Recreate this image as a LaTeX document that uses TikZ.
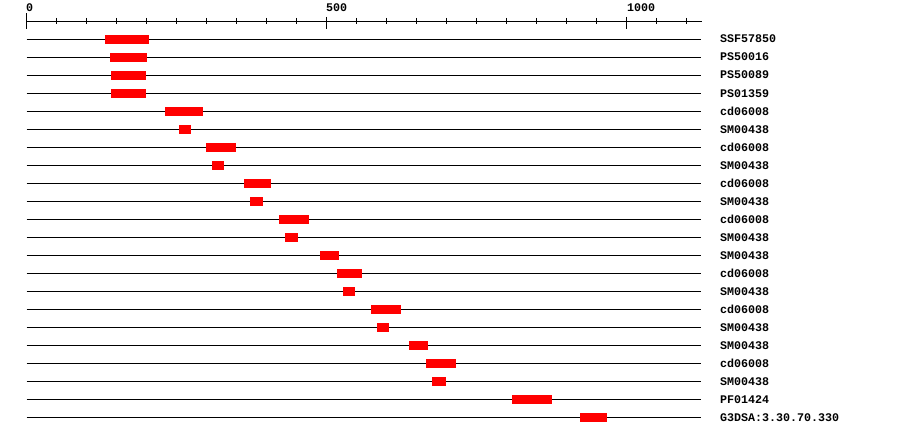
\documentclass[tikz,border=0pt]{standalone}
\usepackage{fontspec}
\setmonofont{Liberation Mono}
\begin{document}
\begin{tikzpicture}[x=1pt,y=-1pt,
  axisline/.style={black,line width=1.35pt},
  rowline/.style={black,line width=1.35pt},
  hit/.style={fill=red,draw=none},
  lbl/.style={inner sep=0pt,anchor=west,text height=7pt,text depth=0pt,font=\ttfamily\bfseries\fontsize{11.67}{14}\selectfont},
  axlbl/.style={inner sep=0pt,anchor=base west,font=\ttfamily\bfseries\fontsize{11.67}{14}\selectfont}]
\useasboundingbox[fill=white] (0,0) rectangle (900,436);
% axis
\coordinate (axL) at (26.5,21.5);
\coordinate (axR) at (701.5,21.5);
\draw[axisline] (axL) -- (axR);
\foreach \v in {50,100,...,1100}{
  \draw[axisline] ({26.5+0.6*\v},18) -- ({26.5+0.6*\v},24.5);
}
\draw[axisline] (26.5,13.5) -- (26.5,29);
\draw[axisline] (326.5,17) -- (326.5,29);
\draw[axisline] (626.5,17) -- (626.5,29);
\node[axlbl] (t0) at (26,11.5) {0};
\node[axlbl] (t500) at (326,11.5) {500};
\node[axlbl] (t1000) at (627,11.5) {1000};
% rows
\foreach \i/\a/\b/\name in {
 0/105/149/SSF57850,
 1/110/147/PS50016,
 2/111/146/PS50089,
 3/111/146/PS01359,
 4/165/203/cd06008,
 5/179/191/SM00438,
 6/206/236/cd06008,
 7/212/224/SM00438,
 8/244/271/cd06008,
 9/250/263/SM00438,
 10/279/309/cd06008,
 11/285/298/SM00438,
 12/320/339/SM00438,
 13/337/362/cd06008,
 14/343/355/SM00438,
 15/371/401/cd06008,
 16/377/389/SM00438,
 17/409/428/SM00438,
 18/426/456/cd06008,
 19/432/446/SM00438,
 20/512/552/PF01424,
 21/580/607/G3DSA:3.30.70.330}{
  \pgfmathsetmacro{\yy}{39.5+18*\i}
  \coordinate (l\i) at (26.5,\yy);
  \coordinate (r\i) at (701,\yy);
  \draw[rowline] (l\i) -- (r\i);
  \fill[hit] (\a,\yy-4.5) rectangle (\b,\yy+4.5);
  \node[lbl] (n\i) at (720,\yy) {\name};
}
\end{tikzpicture}
\end{document}
